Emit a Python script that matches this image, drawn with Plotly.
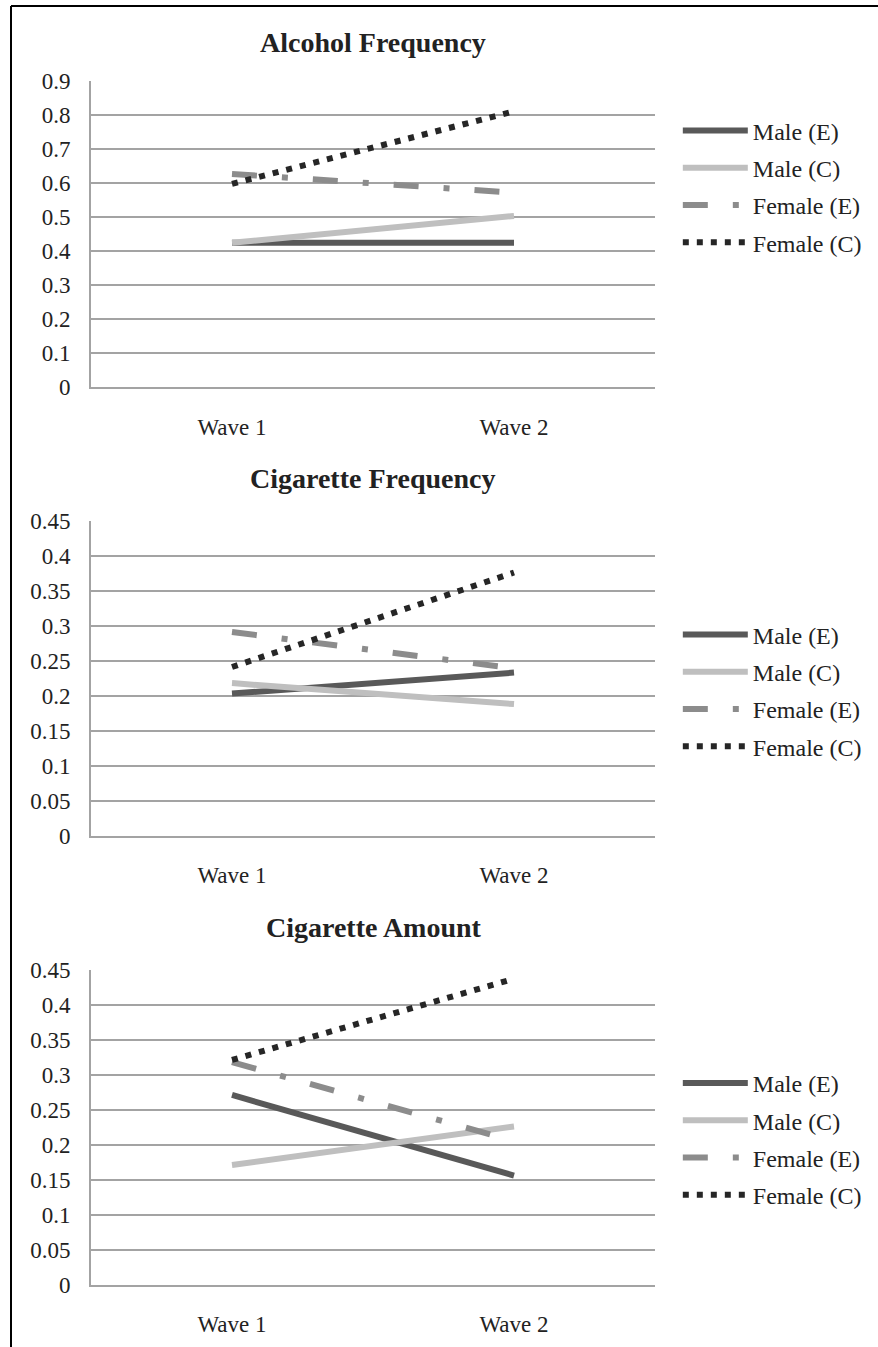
import plotly.graph_objects as go

# ---- data ----
categories = ["Wave 1", "Wave 2"]
series_names = ["Male (E)", "Male (C)", "Female (E)", "Female (C)"]
panel_titles = ["Alcohol Frequency", "Cigarette Frequency", "Cigarette Amount"]

alcohol_male_e = [0.424, 0.424]
alcohol_male_c = [0.424, 0.503]
alcohol_female_e = [0.626, 0.571]
alcohol_female_c = [0.597, 0.810]

cigfreq_male_e = [0.203, 0.233]
cigfreq_male_c = [0.218, 0.188]
cigfreq_female_e = [0.291, 0.239]
cigfreq_female_c = [0.241, 0.376]

cigamt_male_e = [0.271, 0.156]
cigamt_male_c = [0.171, 0.226]
cigamt_female_e = [0.318, 0.205]
cigamt_female_c = [0.321, 0.437]

alcohol_ticks = [0, 0.1, 0.2, 0.3, 0.4, 0.5, 0.6, 0.7, 0.8, 0.9]
alcohol_ticklabels = ["0", "0.1", "0.2", "0.3", "0.4", "0.5", "0.6", "0.7", "0.8", "0.9"]
cig_ticks = [0, 0.05, 0.1, 0.15, 0.2, 0.25, 0.3, 0.35, 0.4, 0.45]
cig_ticklabels = ["0", "0.05", "0.1", "0.15", "0.2", "0.25", "0.3", "0.35", "0.4", "0.45"]

panels = [
    [alcohol_male_e, alcohol_male_c, alcohol_female_e, alcohol_female_c],
    [cigfreq_male_e, cigfreq_male_c, cigfreq_female_e, cigfreq_female_c],
    [cigamt_male_e, cigamt_male_c, cigamt_female_e, cigamt_female_c],
]
panel_ranges = [[0, 0.9], [0, 0.45], [0, 0.45]]
panel_ticks = [(alcohol_ticks, alcohol_ticklabels), (cig_ticks, cig_ticklabels), (cig_ticks, cig_ticklabels)]

# ---- styles ----
W, H = 878, 1347
FONT = "Liberation Serif, Times New Roman, serif"
GRID = "#a3a3a3"
TXT = "#222222"
styles = [
    dict(color="#595959", width=6, dash="solid"),
    dict(color="#bfbfbf", width=6, dash="solid"),
    dict(color="#8c8c8c", width=6, dash="25px,25px,6px,25px"),
    dict(color="#262626", width=6, dash="6px,8px"),
]

def py(p):
    return 1 - p / H

x_dom = [91 / W, 655 / W]
y_doms = [[py(387.3), py(80.6)], [py(835.7), py(520.7)], [py(1284.8), py(969.6)]]
title_pos = [(373 / W, py(42)), (372 / W, py(478)), (374 / W, py(927))]
legend_y = [py(186.5), py(690.5), py(1139)]

fig = go.Figure()
layout = dict(
    width=W, height=H,
    margin=dict(l=0, r=0, t=0, b=0, pad=0, autoexpand=False),
    paper_bgcolor="white", plot_bgcolor="white",
    font=dict(family=FONT, size=23, color=TXT),
    annotations=[], shapes=[],
)

for i, vals in enumerate(panels):
    n = "" if i == 0 else str(i + 1)
    xa, ya = "x" + n, "y" + n
    leg = "legend" + n
    for j, (name, v) in enumerate(zip(series_names, vals)):
        st = styles[j]
        fig.add_trace(go.Scatter(
            x=categories, y=v, name=name, mode="lines",
            line=dict(color=st["color"], width=st["width"], dash=st["dash"]),
            xaxis=xa, yaxis=ya, legend=leg, legendgroup=f"{i}-{j}",
            hoverinfo="skip",
        ))
    layout["xaxis" + n] = dict(
        domain=x_dom, anchor=ya, type="category", range=[-0.5, 1.5],
        showgrid=False, showline=True, linecolor=GRID, linewidth=2,
        ticks="", ticklabelstandoff=18, tickfont=dict(size=23, family=FONT, color=TXT),
        zeroline=False, automargin=False,
    )
    tv, tt = panel_ticks[i]
    layout["yaxis" + n] = dict(
        domain=y_doms[i], anchor=xa, range=panel_ranges[i],
        tickvals=tv, ticktext=tt, showgrid=True, gridcolor=GRID, gridwidth=2,
        showline=True, linecolor=GRID, linewidth=2, ticks="",
        ticklabelstandoff=14, zeroline=False, automargin=False,
        tickfont=dict(size=23, family=FONT, color=TXT),
    )
    layout[leg] = dict(
        x=0.772, xanchor="left", y=legend_y[i], yanchor="middle",
        font=dict(size=24, family=FONT, color=TXT),
        tracegroupgap=3, traceorder="grouped", bgcolor="rgba(0,0,0,0)",
        itemwidth=65,
    )
    tx, ty = title_pos[i]
    layout["annotations"].append(dict(
        text="<b>" + panel_titles[i] + "</b>", x=tx, y=ty, xref="paper", yref="paper",
        showarrow=False, xanchor="center", yanchor="middle",
        font=dict(size=28, family=FONT, color=TXT),
    ))

# outer frame lines (top and left)
layout["shapes"] += [
    dict(type="line", xref="paper", yref="paper", x0=11 / W, x1=1, y0=py(6), y1=py(6),
         line=dict(color="black", width=2)),
    dict(type="line", xref="paper", yref="paper", x0=11 / W, x1=11 / W, y0=0, y1=py(6),
         line=dict(color="black", width=2)),
]

fig.update_layout(**layout)
fig.write_html(
    "out.html",
    config={"displayModeBar": False},
    post_script="document.body.style.margin='0';",
)
